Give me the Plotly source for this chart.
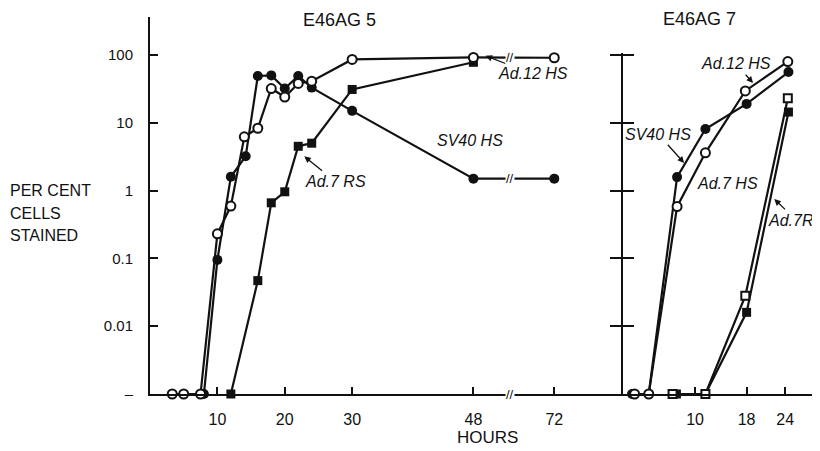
import numpy as np
import plotly.graph_objects as go

# ---------------- data ----------------
ZERO_LEVEL = 0.001          # the "–" row on the y axis stands for 0 %

# E46AG 5 (left panel)
hours5_ad12 = [3.3, 5, 7.5, 10, 12, 14, 16, 18, 20, 22, 24, 30, 48, 72]
pct5_ad12 = [0, 0, 0, 0.23, 0.59, 6.2, 8.3, 32, 24, 38, 41, 86, 92, 91]
hours5_sv40 = [8, 10, 12, 14.2, 16, 18, 20, 22, 24, 30, 48, 72]
pct5_sv40 = [0, 0.095, 1.6, 3.2, 49, 50, 32, 49, 33, 15, 1.5, 1.5]
hours5_ad7rs = [12, 16, 18, 20, 22, 24, 30, 48]
pct5_ad7rs = [0, 0.047, 0.66, 0.96, 4.5, 5.0, 31, 78]

# E46AG 7 (right panel)
hours7_sv40 = [0.2, 2.8, 7.2, 11.6, 18, 24.5]
pct7_sv40 = [0, 0, 1.58, 8.1, 19, 56]
hours7_adhs = [0.6, 2.8, 7.2, 11.6, 17.8, 24.4]
pct7_adhs = [0, 0, 0.58, 3.6, 29.5, 80]
hours7_rs_open = [6.5, 11.6, 17.8, 24.4]
pct7_rs_open = [0, 0, 0.028, 23]
hours7_rs_filled = [7.1, 11.6, 18, 24.5]
pct7_rs_filled = [0, 0, 0.016, 14.4]

xticks5 = [10, 20, 30, 48, 72]
xticks7 = [10, 18, 24]
ytick_vals = [ZERO_LEVEL, 0.01, 0.1, 1, 10, 100]
ytick_text = ["–", "0.01", "0.1", "1", "10", "100"]

# ---------------- helpers ----------------
def brk(h):
    """broken time axis: after 48 h the scale is compressed"""
    h = np.asarray(h, dtype=float)
    return np.where(h <= 48, h, 48 + (h - 48) * 0.5)

def yv(v):
    return [x if x > 0 else ZERO_LEVEL for x in v]

# the page body has an 8px margin: figure is drawn 8px right/down
OFF = 8
WIN_W, WIN_H = 820, 451
W, H = WIN_W - OFF, WIN_H - OFF
# plot area in window pixels
PL, PR, PT, PB = 150, 820, 17, 394
PW, PH = PR - PL, PB - PT

def px(xs):
    return (xs - PL) / PW

def py(ys):
    return (PB - ys) / PH

FONT = "Liberation Sans"
BLACK = "#111111"

filled_circle = dict(symbol="circle", size=10, color=BLACK)
open_circle = dict(symbol="circle", size=9, color="white", line=dict(color=BLACK, width=2))
filled_square = dict(symbol="square", size=9, color=BLACK)
open_square = dict(symbol="square", size=8, color="white", line=dict(color=BLACK, width=2))
LINE = dict(color=BLACK, width=2.2)

fig = go.Figure()

def add(x, y, marker, xa="x", ya="y"):
    fig.add_trace(go.Scatter(x=x, y=yv(y), mode="lines+markers", marker=marker,
                             line=LINE, xaxis=xa, yaxis=ya, cliponaxis=False,
                             showlegend=False, hoverinfo="skip"))

# left panel
add(brk(hours5_ad7rs), pct5_ad7rs, filled_square)
add(brk(hours5_sv40), pct5_sv40, filled_circle)
add(brk(hours5_ad12), pct5_ad12, open_circle)
# right panel
add(hours7_rs_filled, pct7_rs_filled, filled_square, "x2", "y2")
add(hours7_rs_open, pct7_rs_open, open_square, "x2", "y2")
add(hours7_sv40, pct7_sv40, filled_circle, "x2", "y2")
add(hours7_adhs, pct7_adhs, open_circle, "x2", "y2")
# dummy trace so the overlaid tick axis is drawn
fig.add_trace(go.Scatter(x=[None], y=[None], xaxis="x2", yaxis="y3", showlegend=False))

tickfont = dict(family=FONT, size=16, color=BLACK)
ytickfont = dict(family=FONT, size=15, color=BLACK)
YTOP5 = 2.56
DEC = PH / (YTOP5 + 3)           # pixels per decade
y2_top_px = 53
y2_dom = (PB - y2_top_px) / PH
y2_top = -3 + (PB - y2_top_px) / DEC
split = (623 - PL) / PW

fig.update_layout(
    width=W, height=H,
    margin=dict(l=PL - OFF, r=W - (PR - OFF), t=PT - OFF, b=H - (PB - OFF), autoexpand=False),
    paper_bgcolor="white", plot_bgcolor="white", showlegend=False,
    xaxis=dict(domain=[0, split], range=[0, 70.2], anchor="y",
               showline=True, linecolor=BLACK, linewidth=2, showgrid=False, zeroline=False,
               ticks="inside", ticklen=7, tickwidth=1.5, tickcolor=BLACK,
               tickvals=list(brk(xticks5)), ticktext=[str(t) for t in xticks5],
               tickfont=tickfont, ticklabelstandoff=10),
    yaxis=dict(domain=[0, 1], type="log", range=[-3, YTOP5], anchor="x",
               showline=True, linecolor=BLACK, linewidth=2, showgrid=False, zeroline=False,
               ticks="inside", ticklen=8, tickwidth=1.5, tickcolor=BLACK,
               tickvals=ytick_vals, ticktext=ytick_text, tickfont=ytickfont,
               ticklabelstandoff=12),
    xaxis2=dict(domain=[split, 1], range=[-1.2, 29.4], anchor="y2",
                showline=True, linecolor=BLACK, linewidth=2, showgrid=False, zeroline=False,
                ticks="inside", ticklen=7, tickwidth=1.5, tickcolor=BLACK,
                tickvals=xticks7, ticktext=[str(t) for t in xticks7],
                tickfont=tickfont, ticklabelstandoff=10),
    yaxis2=dict(domain=[0, y2_dom], type="log", range=[-3, y2_top], anchor="x2",
                showline=True, linecolor=BLACK, linewidth=2, showgrid=False, zeroline=False,
                ticks="outside", ticklen=11, tickwidth=1.5, tickcolor=BLACK,
                tickvals=ytick_vals[1:], showticklabels=False),
    yaxis3=dict(overlaying="y2", type="log", range=[-3, y2_top], anchor="x2", side="left",
                showline=False, showgrid=False, zeroline=False,
                ticks="inside", ticklen=11, tickwidth=1.5, tickcolor=BLACK,
                tickvals=ytick_vals[1:], showticklabels=False),
)

ann = []
def text(xs, ys, s, size=16, italic=False, xanchor="center"):
    ann.append(dict(x=px(xs), y=py(ys), xref="paper", yref="paper", text=s,
                    showarrow=False, xanchor=xanchor, yanchor="middle",
                    font=dict(family=FONT, size=size, color=BLACK,
                              style="italic" if italic else "normal")))

text(339, 20, "E46AG 5", size=18)
text(699, 19, "E46AG 7", size=18)
text(8, 190, "PER CENT", xanchor="left")
text(8, 213, "CELLS", xanchor="left")
text(8, 235, "STAINED", xanchor="left")
text(487, 437, "HOURS", size=17)
text(470, 140, "SV40 HS", italic=True)
text(727, 183, "Ad.7 HS", italic=True)

def arrow(x, y, s, ax, ay, xa="x", ya="y"):
    ann.append(dict(x=x, y=np.log10(y), xref=xa, yref=ya, text=s, showarrow=True,
                    ax=ax, ay=ay, arrowhead=2, arrowsize=1, arrowwidth=1.3,
                    arrowcolor=BLACK, standoff=0, startstandoff=1,
                    font=dict(family=FONT, size=16, color=BLACK, style="italic")))

arrow(49.8, 97, "Ad.12 HS", 47, 18)
arrow(22.9, 3.2, "Ad.7 RS", 31, 25)
arrow(19.0, 38.6, "Ad.12 HS", -17, -19, "x2", "y2")
arrow(8.3, 2.55, "SV40 HS", -26, -29, "x2", "y2")
arrow(22.3, 0.75, "Ad.7RS", 22, 21, "x2", "y2")

# axis-break marks on the time axis and on the lines crossing it
brk_x = float(np.mean(brk([48, 72]))) - 0.5
for yb in [np.sqrt(pct5_ad12[-2] * pct5_ad12[-1]), np.sqrt(pct5_sv40[-2] * pct5_sv40[-1]), ZERO_LEVEL]:
    ann.append(dict(x=brk_x, y=np.log10(yb), xref="x", yref="y", text="//", showarrow=False,
                    bgcolor="white", borderpad=0,
                    font=dict(family=FONT, size=13, color=BLACK)))

fig.update_layout(annotations=ann)
fig.write_html("out.html")
